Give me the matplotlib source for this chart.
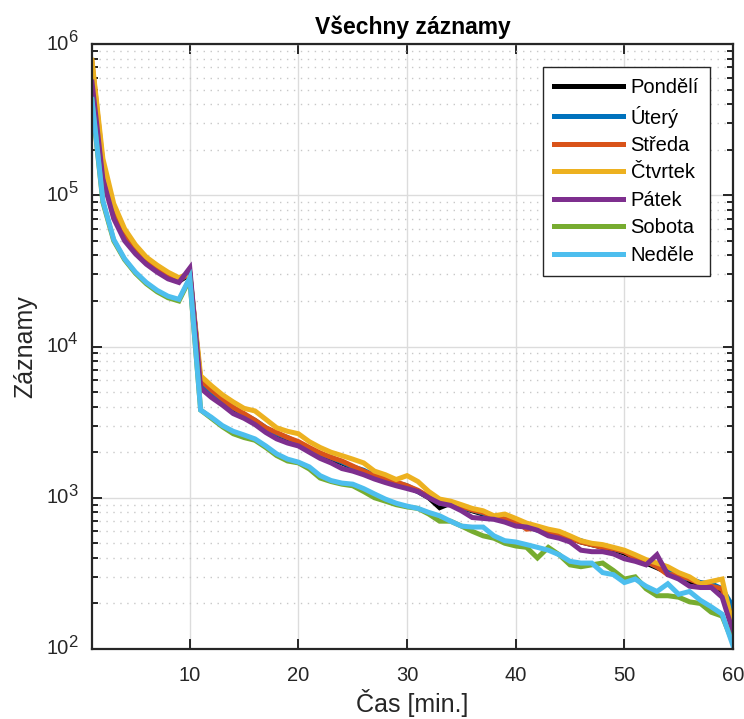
import matplotlib
matplotlib.use("Agg")
import matplotlib.pyplot as plt
import numpy as np
from matplotlib.ticker import LogLocator, FixedLocator, NullFormatter
from matplotlib.transforms import blended_transform_factory

plt.rcParams['font.family'] = ['Liberation Sans', 'DejaVu Sans']

minutes = list(range(1, 61))
day_names = ["Pondělí", "Úterý", "Středa", "Čtvrtek", "Pátek", "Sobota", "Neděle"]
day_colors = ["#000000", "#0072BD", "#D95319", "#EDB120", "#7E2F8E", "#77AC30", "#4DBEEE"]
x_ticks = [10, 20, 30, 40, 50, 60]
y_tick_exponents = [2, 3, 4, 5, 6]

mon = [690000,150000,76000,54000,43000,36000,32000,29000,27000,30000,
       5700,4950,4350,3850,3500,3200,2850,2600,2450,2300,
       2080,1920,1800,1700,1580,1480,1420,1320,1250,1180,
       1100,1000,860,920,860,820,780,745,720,690,
       650,620,590,560,540,510,490,470,455,430,
       400,370,345,320,300,280,270,270,240,160]
tue = [700000,155000,78000,55000,44000,36500,32500,29500,27500,30500,
       5800,5000,4400,3950,3550,3250,2900,2650,2500,2300,
       2100,1950,1850,1720,1600,1520,1400,1320,1260,1200,
       1100,1010,920,900,860,830,790,750,715,680,
       650,610,590,570,540,520,490,480,460,440,
       410,380,350,330,300,290,275,270,250,190]
wed = [760000,160000,80000,56000,44500,37000,33000,30000,27800,30000,
       6000,5150,4500,3950,3600,3250,2900,2700,2500,2350,
       2150,1980,1850,1750,1620,1500,1400,1350,1270,1200,
       1120,1020,930,900,880,830,800,750,720,700,
       620,630,600,570,540,510,490,470,460,440,
       400,380,350,310,310,290,270,260,250,150]
thu = [780000,175000,88000,60000,47000,39000,34500,31000,28500,30500,
       6400,5500,4800,4300,3900,3750,3300,2900,2750,2650,
       2350,2150,2000,1900,1800,1700,1500,1420,1320,1400,
       1280,1100,980,950,900,850,820,760,780,730,
       680,650,620,600,560,520,500,490,470,450,
       420,390,370,350,320,300,270,280,290,140]
fri = [560000,128000,70000,50000,41000,35000,31000,28000,26500,33000,
       5300,4600,4100,3600,3350,3050,2700,2450,2300,2200,
       2000,1820,1700,1560,1500,1420,1330,1260,1200,1150,
       1100,1000,920,890,820,740,730,720,690,650,
       640,610,560,540,510,450,440,440,425,395,
       380,360,420,310,290,260,255,255,220,130]
sat = [420000,90000,50000,37500,30500,26000,23000,21000,20000,28000,
       3800,3350,2950,2650,2500,2400,2150,1900,1750,1700,
       1550,1350,1280,1230,1200,1100,1000,950,900,870,
       850,780,700,700,650,600,560,540,500,480,
       470,400,470,420,360,350,360,370,330,290,
       300,250,225,225,220,205,200,175,165,110]
sun = [430000,92000,51000,38000,31000,26500,23500,21500,20500,28500,
       3800,3400,3000,2750,2600,2450,2200,1950,1800,1720,
       1600,1400,1300,1250,1230,1150,1060,980,920,880,
       850,800,760,700,650,640,640,560,520,510,
       490,470,450,420,380,370,370,320,310,275,
       290,260,240,270,230,240,210,190,170,105]
series = [mon, tue, wed, thu, fri, sat, sun]

fig = plt.figure(figsize=(7.44, 7.19), dpi=100)
ax = fig.add_axes([92/744, 1-649/719, (733-92)/744, (649-44)/719])

for vals, name, col in zip(series, day_names, day_colors):
    ax.plot(minutes, vals, color=col, lw=3.6, label=name, solid_joinstyle='miter')

ax.set_yscale('log')
ax.set_xlim(1, 60)
ax.set_ylim(1e2, 1e6)
ax.xaxis.set_major_locator(FixedLocator(x_ticks))
ax.yaxis.set_major_locator(FixedLocator([10.0 ** e for e in y_tick_exponents]))
ax.yaxis.set_minor_locator(LogLocator(base=10, subs=np.arange(2, 10), numticks=20))
ax.yaxis.set_major_formatter(NullFormatter())
ax.yaxis.set_minor_formatter(NullFormatter())

axcol = '#262626'
ax.grid(True, which='major', color='#dcdcdc', lw=1.0, ls='-')
ax.grid(True, which='minor', axis='y', color='#c8c8c8', lw=1.0, ls=(0, (1, 4)))
ax.set_axisbelow(True)
for sp in ax.spines.values():
    sp.set_color(axcol)
    sp.set_linewidth(1.6)
ax.tick_params(which='both', direction='in', top=True, right=True, colors=axcol,
               labelsize=14.5, width=1.4)
ax.tick_params(which='major', length=7)
ax.tick_params(which='minor', length=4)
ax.tick_params(axis='x', which='major', pad=12)

# y tick labels in MATLAB style: "10" with a large exponent
trans = blended_transform_factory(ax.transAxes, ax.transData)
for e in y_tick_exponents:
    ax.annotate("10", xy=(0, 10.0 ** e), xycoords=trans, xytext=(-17.0, 0),
                textcoords='offset points', ha='right', va='center',
                fontsize=14.5, color=axcol, annotation_clip=False)
    ax.annotate(str(e), xy=(0, 10.0 ** e), xycoords=trans, xytext=(-17.2, 4.8),
                textcoords='offset points', ha='left', va='center',
                fontsize=12, color=axcol, annotation_clip=False)

ax.set_title("Všechny záznamy", fontsize=16.5, fontweight='bold', pad=7)
ax.set_xlabel("Čas [min.]", fontsize=18, color=axcol, labelpad=3)
ax.set_ylabel("Záznamy", fontsize=18, color=axcol, labelpad=0)
ax.yaxis.set_label_coords(-0.085, 0.5)

leg = ax.legend(loc='upper right', bbox_to_anchor=(0.964, 0.962), borderaxespad=0,
                fontsize=14.5, handlelength=3.4, handletextpad=0.4, labelspacing=0.42,
                fancybox=False, framealpha=1, edgecolor=axcol, borderpad=0.55)
leg.get_frame().set_linewidth(1.0)

fig.savefig("out.png", dpi=100)
